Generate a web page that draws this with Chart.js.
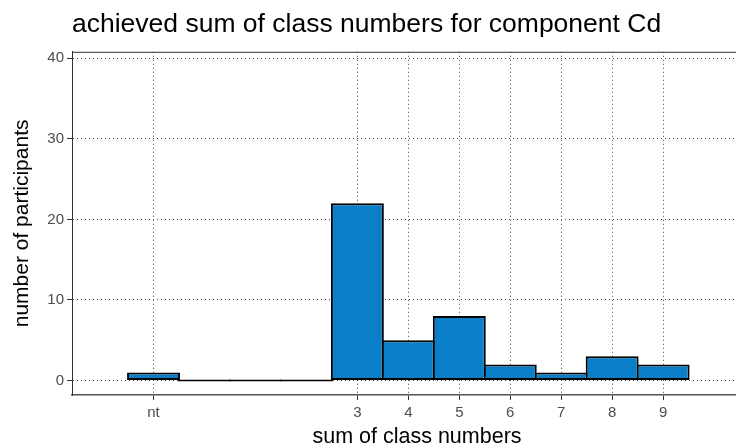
<!DOCTYPE html>
<html>
<head>
<meta charset="utf-8">
<script src="https://cdn.jsdelivr.net/npm/chart.js@4/dist/chart.umd.min.js"></script>
<style>
	html, body { margin: 0; padding: 0; background: #fff; overflow: hidden; }
	canvas { display: block; }
</style>
</head>
<body>
<!-- the original panel runs past the right edge of the picture, so the canvas is a bit wider than the window -->
<canvas id="chart" width="762" height="447"></canvas>
<script>
// x slots of the bars ("nt" sits one slot left of 0)
const positions = [-1, 0, 1, 2, 3, 4, 5, 6, 7, 8, 9];
const counts = [1, 0, 0, 0, 22, 5, 8, 2, 1, 3, 2];

// only these slots carry a tick label
const tickPositions = [-1, 3, 4, 5, 6, 7, 8, 9];
const tickLabels = ["nt", "3", "4", "5", "6", "7", "8", "9"];
const yTicks = [0, 10, 20, 30, 40];

const barBlue = "#0a7fc8";

Chart.defaults.font.family = "'Liberation Sans', Arial, sans-serif";

// panel top edge (ggplot border), chart.js has no top axis here
const topBorder = {
	id: "topBorder",
	afterDraw(chart) {
		const { ctx, chartArea } = chart;
		ctx.save();
		ctx.strokeStyle = "#333";
		ctx.lineWidth = 1;
		ctx.beginPath();
		ctx.moveTo(chartArea.left, chartArea.top + 0.5);
		ctx.lineTo(chartArea.right, chartArea.top + 0.5);
		ctx.stroke();
		ctx.restore();
	},
};

const ctx = document.getElementById("chart").getContext("2d");
new Chart(ctx, {
	type: "bar",
	data: {
		datasets: [
			{
				data: positions.map((x, i) => ({ x: x, y: counts[i] })),
				// empty bins collapse to a black line like in ggplot
				backgroundColor: (c) => (c.raw && c.raw.y === 0 ? "#000" : barBlue),
				borderColor: "#000",
				borderWidth: 2,
				borderSkipped: false,
				minBarLength: 2,
				// slight overlap so neighbouring borders share one stroke
				barPercentage: 53 / 51,
				categoryPercentage: 1,
			},
		],
	},
	options: {
		responsive: false,
		animation: false,
		layout: { padding: 0 },
		plugins: {
			legend: { display: false },
			tooltip: { enabled: false },
			title: {
				display: true,
				text: "achieved sum of class numbers for component Cd",
				align: "start",
				fullSize: false,
				color: "#000",
				font: { size: 26.5, weight: "normal" },
				padding: { top: 9, bottom: 11 },
			},
		},
		scales: {
			x: {
				type: "linear",
				min: -2.6,
				max: 10.94,
				offset: false,
				afterBuildTicks: (scale) => {
					scale.ticks = tickPositions.map((v) => ({ value: v }));
				},
				afterFit: (scale) => {
					scale.height = 52;
				},
				ticks: {
					autoSkip: false,
					maxRotation: 0,
					padding: 4,
					color: "#4d4d4d",
					font: { size: 15 },
					callback: (value, index) => tickLabels[index],
				},
				grid: {
					offset: false,
					color: "#444",
					lineWidth: 1,
					tickLength: 5,
					tickColor: "#333",
					tickWidth: 1,
					tickBorderDash: [],
				},
				border: { display: true, color: "#555", width: 1.5, dash: [1, 3] },
				title: {
					display: true,
					text: "sum of class numbers",
					color: "#000",
					font: { size: 21.5, lineHeight: 0.8 },
					padding: { top: 0, bottom: 1 },
				},
			},
			y: {
				min: -1.8,
				max: 40.8,
				afterBuildTicks: (scale) => {
					scale.ticks = yTicks.map((v) => ({ value: v }));
				},
				afterFit: (scale) => {
					scale.width = 72;
				},
				ticks: {
					padding: 3,
					color: "#4d4d4d",
					font: { size: 15 },
				},
				grid: {
					color: "#444",
					lineWidth: 1,
					tickLength: 5,
					tickColor: "#333",
					tickWidth: 1,
					tickBorderDash: [],
				},
				border: { display: true, color: "#333", width: 1, dash: [1, 3] },
				title: {
					display: true,
					text: "number of participants",
					color: "#000",
					font: { size: 21, lineHeight: 1.2 },
					padding: { top: 10, bottom: 0 },
				},
			},
		},
	},
	plugins: [topBorder],
});
</script>
</body>
</html>
